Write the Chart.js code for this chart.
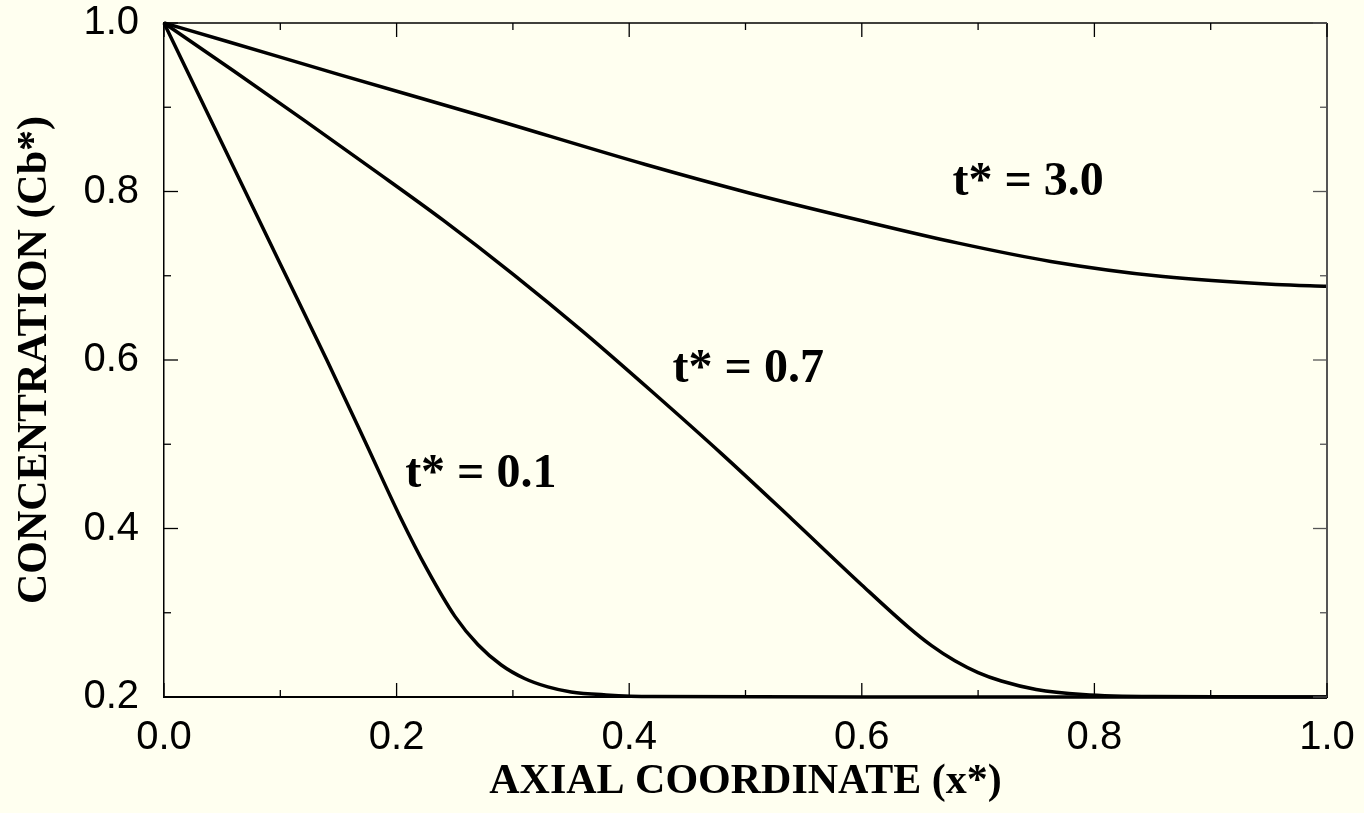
<!DOCTYPE html>
<html>
<head>
<meta charset="utf-8">
<script src="https://cdn.jsdelivr.net/npm/chart.js@4/dist/chart.umd.min.js"></script>
<style>
  html, body { margin: 0; padding: 0; background: #fffff0; }
  #wrap { width: 1364px; height: 813px; }
</style>
</head>
<body>
<div id="wrap"><canvas id="perfilChart" width="1364" height="813"></canvas></div>
<script>
/* ============================================================
   DATOS: perfiles de concentración
============================================================ */

const xT01 = [0, 0.050, 0.100, 0.140, 0.174, 0.203, 0.226, 0.250, 0.270, 0.290, 0.310, 0.330, 0.350, 0.380, 0.420, 0.600, 0.800, 1.0];
const yT01 = [1.0, 0.857, 0.714, 0.600, 0.500, 0.414, 0.352, 0.296, 0.262, 0.238, 0.222, 0.212, 0.206, 0.2025, 0.2005, 0.200, 0.200, 0.200];

const xT07 = [0, 0.06, 0.12, 0.18, 0.24, 0.30, 0.36, 0.42, 0.48, 0.54, 0.60, 0.64, 0.66, 0.68, 0.70, 0.72, 0.75, 0.79, 0.85, 1.0];
const yT07 = [1.0, 0.943, 0.885, 0.826, 0.766, 0.702, 0.634, 0.562, 0.488, 0.411, 0.333, 0.283, 0.261, 0.243, 0.229, 0.219, 0.209, 0.203, 0.2005, 0.200];

const xT30 = [0, 0.0545, 0.150, 0.275, 0.414, 0.504, 0.601, 0.682, 0.7625, 0.859, 0.956, 1.0];
const yT30 = [1.0, 0.978, 0.939, 0.889, 0.832, 0.798, 0.765, 0.739, 0.717, 0.699, 0.6896, 0.6876];

const etiquetas = ["t* = 0.1", "t* = 0.7", "t* = 3.0"];
const etiquetaX = [0.2724, 0.5024, 0.743];
const etiquetaY = [0.4637, 0.5887, 0.811];

const xTicks = [0.0, 0.2, 0.4, 0.6, 0.8, 1.0];
const yTicks = [0.2, 0.4, 0.6, 0.8, 1.0];

const toPoints = (xs, ys) => xs.map((x, i) => ({ x: x, y: ys[i] }));

/* ============================================================
   PLUGIN: marco, ticks hacia adentro y etiquetas de curva
============================================================ */

const marcoPlugin = {
    id: "marco",
    afterDraw(chart) {
        const ctx = chart.ctx;
        const a = chart.chartArea;
        const sx = chart.scales.x;
        const sy = chart.scales.y;
        ctx.save();
        ctx.strokeStyle = "#000";
        ctx.lineWidth = 1.5;
        ctx.beginPath();
        ctx.moveTo(a.left, a.top);
        ctx.lineTo(a.right, a.top);
        ctx.stroke();
        ctx.strokeStyle = "#555";
        ctx.lineWidth = 2;
        ctx.beginPath();
        ctx.moveTo(a.right, a.top);
        ctx.lineTo(a.right, a.bottom);
        ctx.stroke();

        ctx.lineWidth = 1.3;
        for (let i = 0; i <= 10; i++) {
            const len = (i % 2 === 0) ? 14 : 7;
            const px = sx.getPixelForValue(i / 10);
            ctx.strokeStyle = "#000";
            ctx.beginPath();
            ctx.moveTo(px, a.bottom); ctx.lineTo(px, a.bottom - len);
            ctx.moveTo(px, a.top); ctx.lineTo(px, a.top + len);
            ctx.stroke();
        }
        for (let i = 2; i <= 10; i++) {
            const len = (i % 2 === 0) ? 14 : 7;
            const py = sy.getPixelForValue(i / 10);
            ctx.strokeStyle = "#000";
            ctx.beginPath();
            ctx.moveTo(a.left, py); ctx.lineTo(a.left + len, py);
            ctx.stroke();
            ctx.strokeStyle = "#555";
            ctx.beginPath();
            ctx.moveTo(a.right, py); ctx.lineTo(a.right - len, py);
            ctx.stroke();
        }

        ctx.fillStyle = "#000";
        ctx.font = "bold 48px 'Liberation Serif', 'Times New Roman', serif";
        ctx.textAlign = "center";
        ctx.textBaseline = "middle";
        etiquetas.forEach((t, i) => {
            ctx.fillText(t, sx.getPixelForValue(etiquetaX[i]), sy.getPixelForValue(etiquetaY[i]));
        });
        ctx.restore();
    }
};

/* ============================================================
   GRÁFICO
============================================================ */

const linea = { borderColor: "#000", borderWidth: 3.5, pointRadius: 0, fill: false,
                cubicInterpolationMode: "monotone", clip: 4 };

const ctxPerfil = document.getElementById("perfilChart");
new Chart(ctxPerfil, {
    type: "line",
    data: {
        datasets: [
            Object.assign({ label: etiquetas[0], data: toPoints(xT01, yT01) }, linea),
            Object.assign({ label: etiquetas[1], data: toPoints(xT07, yT07) }, linea),
            Object.assign({ label: etiquetas[2], data: toPoints(xT30, yT30) }, linea)
        ]
    },
    options: {
        responsive: false,
        animation: false,
        layout: { padding: { top: 23, right: 37, bottom: 0, left: 0 } },
        plugins: { legend: { display: false }, tooltip: { enabled: false } },
        scales: {
            x: {
                type: "linear",
                min: 0, max: 1,
                afterBuildTicks: s => { s.ticks = xTicks.map(v => ({ value: v })); },
                afterFit: s => { s.height = 116; s.paddingLeft = 0; s.paddingRight = 0; },
                grid: { drawOnChartArea: false, drawTicks: false },
                border: { color: "#000", width: 2 },
                ticks: {
                    color: "#000",
                    padding: 17,
                    maxRotation: 0,
                    font: { family: "'Liberation Sans', Arial, sans-serif", size: 40 },
                    callback: v => v.toFixed(1)
                },
                title: {
                    display: true,
                    text: "AXIAL COORDINATE (x*)",
                    color: "#000",
                    padding: { top: 0, bottom: 6 },
                    font: { family: "'Liberation Serif', 'Times New Roman', serif", size: 42, weight: "bold" }
                }
            },
            y: {
                min: 0.2, max: 1.0,
                afterBuildTicks: s => { s.ticks = yTicks.map(v => ({ value: v })); },
                afterFit: s => { s.width = 164; s.paddingTop = 0; s.paddingBottom = 0; },
                grid: { drawOnChartArea: false, drawTicks: false },
                border: { color: "#000", width: 1.5 },
                ticks: {
                    color: "#000",
                    padding: 25,
                    font: { family: "'Liberation Sans', Arial, sans-serif", size: 40 },
                    callback: v => v.toFixed(1)
                },
                title: {
                    display: true,
                    text: "CONCENTRATION (Cb*)",
                    color: "#000",
                    padding: { top: 10, bottom: 0 },
                    font: { family: "'Liberation Serif', 'Times New Roman', serif", size: 42, weight: "bold" }
                }
            }
        }
    },
    plugins: [marcoPlugin]
});
</script>
</body>
</html>
